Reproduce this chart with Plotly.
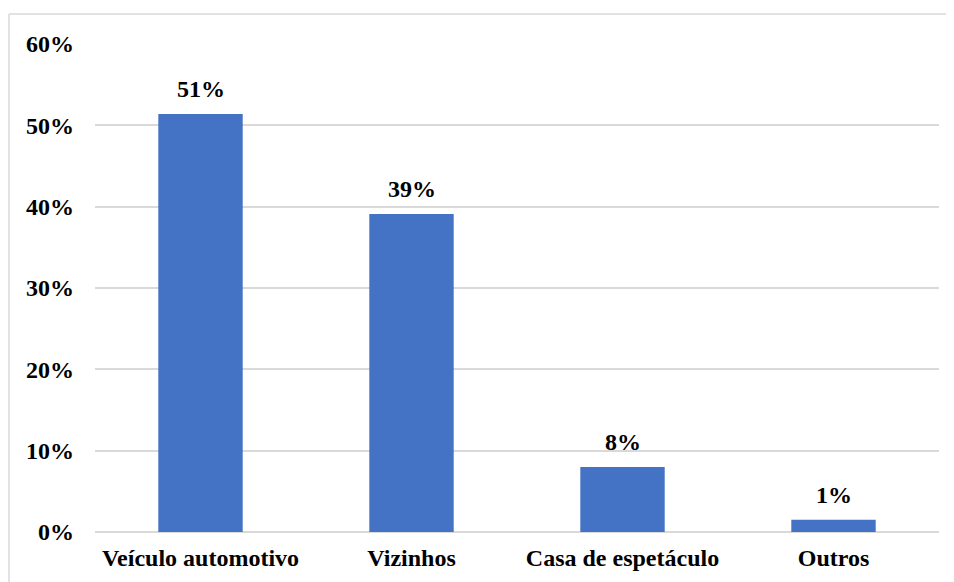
import plotly.graph_objects as go

categories = ["Veículo automotivo", "Vizinhos", "Casa de espetáculo", "Outros"]
values = [0.514, 0.391, 0.080, 0.015]
labels = ["51%", "39%", "8%", "1%"]
tick_vals = [0, 0.1, 0.2, 0.3, 0.4, 0.5, 0.6]
tick_text = ["0%", "10%", "20%", "30%", "40%", "50%", "60%"]

OFF = 8  # page body margin
W, H = 954 - OFF, 582 - OFF
L, R, T, B = 95 - OFF, 15, 44 - OFF, 50
pw, ph = W - L - R, H - T - B

FAM = "Liberation Serif, Times New Roman, serif"
font = dict(family=FAM, size=24, color="black", weight="bold")

fig = go.Figure(go.Bar(
    x=categories, y=values,
    marker=dict(color="#4472C4", line=dict(width=0)),
))

for c, v, t in zip(categories, values, labels):
    fig.add_annotation(x=c, y=v, text=t, showarrow=False, yanchor="bottom",
                       yshift=10, font=font)

fig.update_layout(
    width=W, height=H,
    margin=dict(l=L, r=R, t=T, b=B),
    paper_bgcolor="white", plot_bgcolor="white",
    bargap=0.6,
    font=font,
    showlegend=False,
    xaxis=dict(showgrid=False, showline=False, ticks="", tickfont=font,
               ticklabelstandoff=9),
    yaxis=dict(range=[0, 0.6], tickvals=tick_vals, ticktext=tick_text,
               showgrid=True, gridcolor="#d9d9d9", gridwidth=1.5,
               zeroline=True, zerolinecolor="#d9d9d9", zerolinewidth=1.5,
               showline=False, ticks="", tickfont=font, ticklabelstandoff=20),
)

# outer chart border (left and top)
x_left = (9 - OFF - L) / pw
y_top = 1 + (T - (14 - OFF)) / ph
fig.add_shape(type="line", xref="paper", yref="paper",
              x0=x_left, x1=x_left, y0=y_top, y1=-B / ph - 0.02,
              line=dict(color="#d9d9d9", width=1.5))
fig.add_shape(type="line", xref="paper", yref="paper",
              x0=x_left, x1=1 + R / pw + 0.02, y0=y_top, y1=y_top,
              line=dict(color="#d9d9d9", width=1.5))

fig.write_html("out.html")
